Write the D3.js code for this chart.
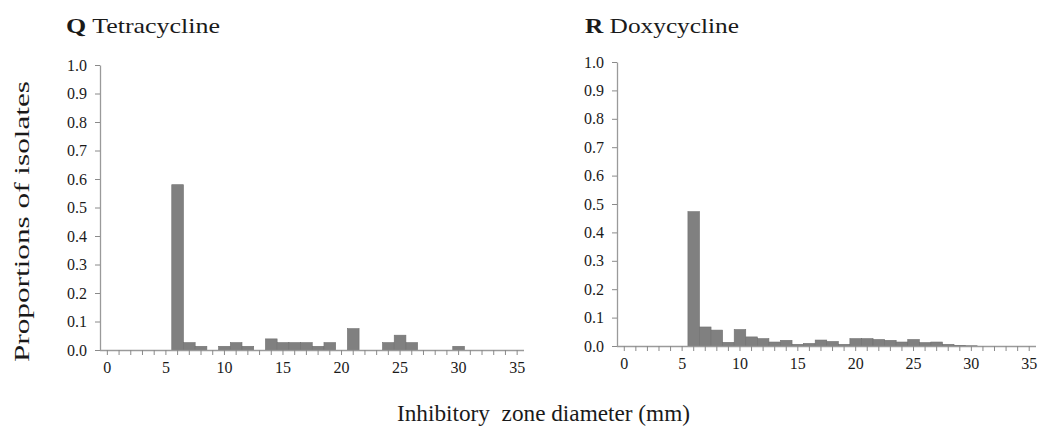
<!DOCTYPE html>
<html lang="en">
	<head>
		<meta charset="utf-8">
		<title>Inhibitory zone diameters</title>
		<script src="https://d3js.org/d3.v7.min.js"></script>
		<style>
			body { margin: 0; background: #fff; }
		</style>
	</head>

	<body>
		<script type="text/javascript">

			// data
			var zones = [0,1,2,3,4,5,6,7,8,9,10,11,12,13,14,15,16,17,18,19,20,21,22,23,24,25,26,27,28,29,30,31,32,33,34,35]
			var zoneLabels = [0,5,10,15,20,25,30,35]
			var yTicks = [0,0.1,0.2,0.3,0.4,0.5,0.6,0.7,0.8,0.9,1.0]

			var tetracycline = [0,0,0,0,0,0,0.58,0.026,0.013,0,0.013,0.026,0.013,0,0.039,0.026,0.026,0.026,0.013,0.026,
								0,0.075,0,0,0.026,0.052,0.026,0,0,0,0.013,0,0,0,0,0]
			var doxycycline = [0,0,0,0,0,0,0.473,0.067,0.056,0.013,0.058,0.032,0.026,0.014,0.02,0.006,0.009,0.021,0.016,0.006,
								0.026,0.026,0.023,0.02,0.014,0.023,0.012,0.014,0.006,0.002,0.001,0,0,0,0,0]

			var serif = "'Liberation Serif', 'Times New Roman', Times, serif"

			var panels = [
				{letter: "Q", name: "Tetracycline", values: tetracycline, x0: 100, x1: 523, yBottom: 350, yTop: 65, titleX: 66},
				{letter: "R", name: "Doxycycline", values: doxycycline, x0: 617, x1: 1035, yBottom: 346, yTop: 62, titleX: 585}
			]

			var w = 1040
			var h = 427

			var svg = d3.select("body")
						.append("svg")
						.attr("width", w)
						.attr("height", h)
						.attr("font-family", serif)
						.style("font-family", serif)

			panels.forEach(function(p){

				var x = d3.scaleBand()
						.domain(zones)
						.range([p.x0 + 1.5, p.x1])
						.padding(0)

				var y = d3.scaleLinear()
						.domain([0, 1])
						.range([p.yBottom, p.yTop])

				var g = svg.append("g")

				// bars
				g.selectAll("rect")
					.data(p.values)
					.enter()
					.append("rect")
					.attr("x", function(d, i){ return x(zones[i]) })
					.attr("width", x.bandwidth())
					.attr("y", function(d){ return y(d) })
					.attr("height", function(d){ return y(0) - y(d) })
					.style("fill", "#808080")
					.style("stroke", "#707070")
					.style("stroke-width", 0.6)

				// y axis
				var yAxis = g.append("g")
						.attr("transform", "translate(" + p.x0 + ",0)")
						.call(d3.axisLeft(y)
							.tickValues(yTicks)
							.tickFormat(d3.format(".1f"))
							.tickSize(5)
							.tickSizeOuter(0)
							.tickPadding(8))

				// x axis
				var xAxis = g.append("g")
						.attr("transform", "translate(0," + p.yBottom + ")")
						.call(d3.axisBottom(x)
							.tickSize(5)
							.tickSizeOuter(0)
							.tickPadding(7)
							.tickFormat(function(d){ return zoneLabels.indexOf(d) >= 0 ? d : "" }))

				xAxis.select(".domain").attr("d", "M" + p.x0 + ",0.5H" + (p.x1 + 1))

				;[yAxis, xAxis].forEach(function(a){
					a.attr("font-family", serif).attr("font-size", 16)
					a.select(".domain").style("stroke", "#9a9a9a").style("stroke-width", 1.3)
					a.selectAll(".tick line").style("stroke", "#8a8a8a")
					a.selectAll(".tick text")
						.style("font-family", serif)
						.style("font-size", "16px")
						.style("fill", "#1a1a1a")
				})

				// panel title
				var t = svg.append("text")
						.attr("x", p.titleX)
						.attr("y", 33)
						.attr("textLength", 154)
						.attr("lengthAdjust", "spacingAndGlyphs")
						.style("font-family", serif)
						.style("font-size", "22px")
						.style("fill", "#1a1a1a")
				t.append("tspan").style("font-weight", "bold").text(p.letter)
				t.append("tspan").text(" " + p.name)
			})

			// shared axis labels
			svg.append("text")
				.attr("transform", "translate(29,221.5) rotate(-90)")
				.attr("text-anchor", "middle")
				.attr("textLength", 281)
				.attr("lengthAdjust", "spacingAndGlyphs")
				.style("font-family", serif)
				.style("font-size", "21px")
				.style("fill", "#1a1a1a")
				.text("Proportions of isolates")

			svg.append("text")
				.attr("x", 397)
				.attr("y", 421)
				.attr("textLength", 293)
				.attr("lengthAdjust", "spacingAndGlyphs")
				.attr("xml:space", "preserve")
				.style("white-space", "pre")
				.style("font-family", serif)
				.style("font-size", "23px")
				.style("fill", "#1a1a1a")
				.text("Inhibitory  zone diameter (mm)")

		</script>
	</body>
</html>
